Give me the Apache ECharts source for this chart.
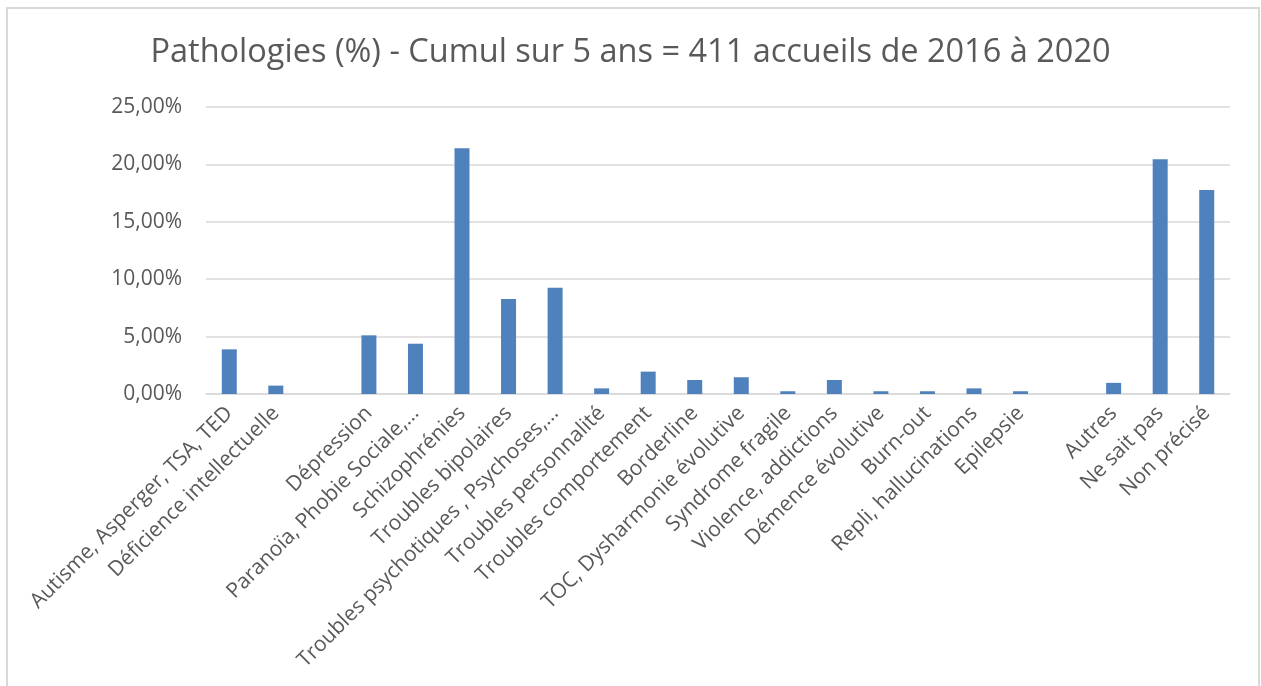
<!DOCTYPE html>
<html>
<head>
<meta charset="utf-8">
<script src="https://cdn.jsdelivr.net/npm/echarts@6/dist/echarts.min.js"></script>
<style>
  html, body { margin: 0; padding: 0; background: #fff; }
  .frame {
    position: absolute; left: 6px; top: 7px; width: 1250px; height: 700px;
    border: 2px solid #d9d9d9; border-bottom: none;
  }
  #chart { position: absolute; left: 0; top: 0; width: 1261px; height: 686px; }
</style>
</head>
<body>
<div class="frame"></div>
<div id="chart"></div>
<script>
const categories = [
  'Autisme, Asperger, TSA, TED', 'Déficience intellectuelle', '', 'Dépression',
  'Paranoïa, Phobie Sociale,…', 'Schizophrénies', 'Troubles bipolaires',
  'Troubles psychotiques , Psychoses,…', 'Troubles personnalité', 'Troubles comportement',
  'Borderline', 'TOC, Dysharmonie évolutive', 'Syndrome fragile', 'Violence, addictions',
  'Démence évolutive', 'Burn-out', 'Repli, hallucinations', 'Epilepsie', '',
  'Autres', 'Ne sait pas', 'Non précisé'
]
// pourcentages (%)
const values = [
  3.89, 0.73, 0, 5.11, 4.38, 21.41, 8.27, 9.25, 0.49, 1.95, 1.22,
  1.46, 0.24, 1.22, 0.24, 0.24, 0.49, 0.24, 0, 0.97, 20.44, 17.76
]
const yTicks = [0, 5, 10, 15, 20, 25]

const fmtPct = (v) => v.toFixed(2).replace('.', ',') + '%'
const font = '"Open Sans", "Noto Sans", sans-serif'

const chart = echarts.init(document.getElementById('chart'))
chart.setOption({
  backgroundColor: 'transparent',
  animation: false,
  title: {
    text: 'Pathologies (%) - Cumul sur 5 ans = 411 accueils de 2016 à 2020',
    left: 'center', top: 31,
    textStyle: { color: '#595959', fontSize: 32.5, fontWeight: 'normal', fontFamily: font },
  },
  grid: { left: 206, right: 31, top: 107, bottom: 292 },
  xAxis: {
    type: 'category', data: categories,
    axisLine: { lineStyle: { color: '#d9d9d9', width: 1.5 } },
    axisTick: { show: false },
    axisLabel: {
      color: '#595959', fontSize: 21, fontFamily: font,
      rotate: 45, interval: 0, margin: 16,
    },
  },
  yAxis: {
    type: 'value', min: yTicks[0], max: yTicks[yTicks.length - 1], interval: 5,
    axisLine: { show: false }, axisTick: { show: false },
    axisLabel: { color: '#595959', fontSize: 21, fontFamily: font, margin: 24, formatter: fmtPct },
    splitLine: { lineStyle: { color: '#d9d9d9', width: 1.5 } },
  },
  series: [{
    type: 'bar', data: values, barWidth: 15,
    itemStyle: { color: '#4f81bd' },
  }],
})
</script>
</body>
</html>
